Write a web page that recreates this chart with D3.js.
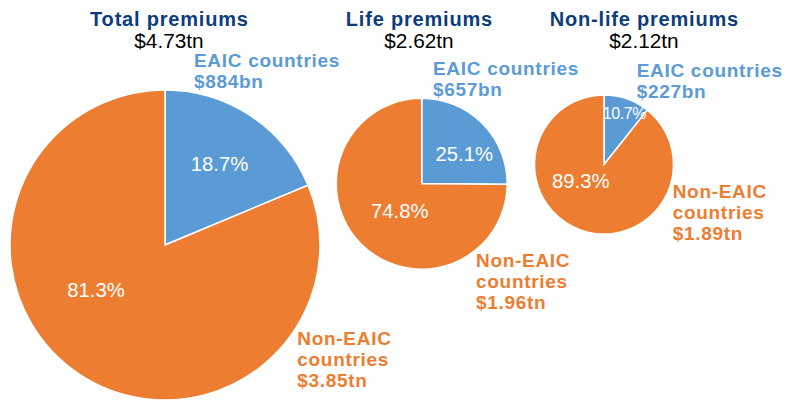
<!DOCTYPE html>
<html>
<head>
<meta charset="utf-8">
<script src="https://cdn.jsdelivr.net/npm/d3@7"></script>
<style>
  html, body { margin: 0; padding: 0; background: #fff; }
  svg { display: block; font-family: "Liberation Sans", Arial, Helvetica, sans-serif; }
</style>
</head>
<body>
<svg id="chart" width="799" height="403"></svg>
<script>
// ---- Data ----
const chartTitles = ["Total premiums", "Life premiums", "Non-life premiums"];
const chartTotals = ["$4.73tn", "$2.62tn", "$2.12tn"];
const segmentNames = ["EAIC countries", "Non-EAIC countries"];
const eaicShares = [18.7, 25.1, 10.7];
const nonEaicShares = [81.3, 74.8, 89.3];
const eaicAmounts = ["$884bn", "$657bn", "$227bn"];
const nonEaicAmounts = ["$3.85tn", "$1.96tn", "$1.89tn"];

// ---- Layout (positions only) ----
const layout = [
  { cx: 165, cy: 245, r: 155, titleX: 169,
    pct: [{x: 219.5, y: 170.7, size: 20.3}, {x: 96, y: 296.7, size: 20.3}],
    eaic: {x: 194, y: 67}, non: {x: 297.3, y: 345} },
  { cx: 421.7, cy: 183.7, r: 85.5, titleX: 419,
    pct: [{x: 464.3, y: 161, size: 20.3}, {x: 399.7, y: 217.7, size: 20.3}],
    eaic: {x: 433, y: 75}, non: {x: 476, y: 267} },
  { cx: 604, cy: 164.5, r: 69.5, titleX: 644,
    pct: [{x: 624.5, y: 118.5, size: 16}, {x: 580.8, y: 188, size: 20.3}],
    eaic: {x: 636.7, y: 77.3}, non: {x: 672.7, y: 197.7} }
];

const colors = d3.scaleOrdinal().domain(segmentNames).range(["#5b9bd5", "#ed7d31"]);
const svg = d3.select("#chart");
const pie = d3.pie().sort(null).value(d => d.value);

layout.forEach((L, i) => {
  const data = [
    { name: segmentNames[0], value: eaicShares[i] },
    { name: segmentNames[1], value: nonEaicShares[i] }
  ];
  const arc = d3.arc().innerRadius(0).outerRadius(L.r);
  const g = svg.append("g").attr("transform", `translate(${L.cx},${L.cy})`);
  g.selectAll("path").data(pie(data)).join("path")
    .attr("d", arc)
    .attr("fill", d => colors(d.data.name))
    .attr("stroke", "#fff")
    .attr("stroke-width", 1.5)
    .attr("stroke-linejoin", "miter");

  // percentage labels
  data.forEach((d, j) => {
    svg.append("text")
      .attr("x", L.pct[j].x).attr("y", L.pct[j].y)
      .attr("text-anchor", "middle")
      .attr("font-size", L.pct[j].size)
      .attr("fill", "#fff")
      .attr("letter-spacing", j === 0 && i === 2 ? -0.4 : 0)
      .text(d.value.toFixed(1) + "%");
  });

  // title
  svg.append("text")
    .attr("x", L.titleX + 0.4).attr("y", 25.7)
    .attr("text-anchor", "middle")
    .attr("font-size", 20).attr("font-weight", "bold")
    .attr("letter-spacing", 0.8)
    .attr("fill", "#0c3c7c")
    .text(chartTitles[i]);
  svg.append("text")
    .attr("x", L.titleX).attr("y", 48.3)
    .attr("text-anchor", "middle")
    .attr("font-size", 20.8)
    .attr("fill", "#000")
    .text(chartTotals[i]);

  // EAIC label
  const e = svg.append("text")
    .attr("font-size", 19).attr("font-weight", "bold")
    .attr("letter-spacing", 0.7)
    .attr("fill", colors(segmentNames[0]));
  e.append("tspan").attr("x", L.eaic.x).attr("y", L.eaic.y).text(segmentNames[0]);
  e.append("tspan").attr("x", L.eaic.x).attr("y", L.eaic.y + 21).text(eaicAmounts[i]);

  // Non-EAIC label
  const n = svg.append("text")
    .attr("font-size", 19).attr("font-weight", "bold")
    .attr("letter-spacing", 0.7)
    .attr("fill", colors(segmentNames[1]));
  const parts = segmentNames[1].split(" ");
  n.append("tspan").attr("x", L.non.x).attr("y", L.non.y).text(parts[0]);
  n.append("tspan").attr("x", L.non.x).attr("y", L.non.y + 21.3).text(parts[1]);
  n.append("tspan").attr("x", L.non.x).attr("y", L.non.y + 42.3).text(nonEaicAmounts[i]);
});
</script>
</body>
</html>
